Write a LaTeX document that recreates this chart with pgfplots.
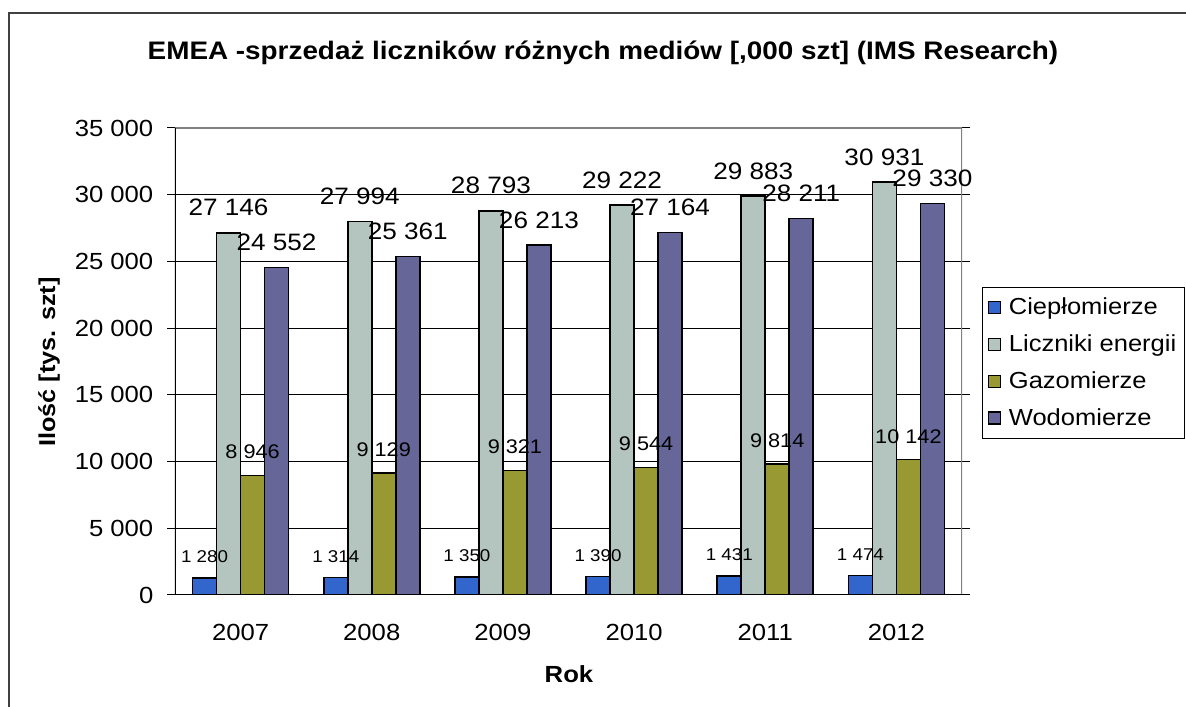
\documentclass[border=0pt]{standalone}
\usepackage{fontspec}
\setmainfont{Liberation Sans}[FakeStretch=1.1]
\usepackage{pgfplots}
\pgfplotsset{compat=1.18}
\definecolor{cBlue}{HTML}{3366CC}
\definecolor{cGray}{HTML}{B4C4BE}
\definecolor{cOlive}{HTML}{999933}
\definecolor{cPurple}{HTML}{666699}
\definecolor{cFrame}{HTML}{404040}
\definecolor{cBox}{HTML}{808080}
\pgfkeys{/pgf/number format/.cd, fixed, precision=0, 1000 sep={\ }, assume math mode=true}
\begin{document}
\begin{tikzpicture}[x=0.75pt,y=0.75pt]
\useasboundingbox (0,0) rectangle (1186,707);
\draw[line width=1.5pt, cFrame] (9,-30) rectangle (1230,694);
\begin{axis}[
  at={(131.25pt,84pt)}, anchor=south west, scale only axis,
  width=590.25pt, height=350.25pt,
  xmin=-0.5, xmax=5.5, ymin=0, ymax=35000,
  ybar=0pt, bar width=18pt,
  axis line style={draw=none},
  tick align=outside,
  major tick length=6pt,
  xtick={0,1,2,3,4,5},
  xticklabels={2007,2008,2009,2010,2011,2012},
  x tick style={draw=none},
  extra x ticks={-0.5,0.5,1.5,2.5,3.5,4.5,5.5},
  extra x tick labels={},
  extra x tick style={grid=none, major tick length=4.5pt, tick style={black, line width=0.75pt}},
  ytick={0,5000,...,35000},
  y tick style={black, line width=0.75pt},
  scaled y ticks=false,
  ymajorgrids, grid style={black, line width=0.75pt},
  tick label style={font=\fontsize{17.5}{20}\selectfont},
  yticklabel style={xshift=-6.75pt, /pgf/number format/.cd, fixed, precision=0, 1000 sep={\ }, assume math mode=true},
  xticklabel style={anchor=base, yshift=-28pt},
  title={EMEA -sprzedaż liczników różnych mediów [,000 szt] (IMS Research)},
  title style={at={(axis description cs:0.5438,1.1306)}, anchor=base, font=\bfseries\fontsize{19.0}{22}\selectfont},
  xlabel={Rok},
  every axis x label/.style={at={(axis description cs:0.5006,-0.1884)}, anchor=base, font=\bfseries\fontsize{17.5}{20}\selectfont},
  ylabel={Ilość [tys. szt]},
  every axis y label/.style={at={(axis description cs:-0.1601,0.4989)}, rotate=90, anchor=center, font=\bfseries\fontsize{17.2}{20}\selectfont},
  nodes near coords={\pgfmathprintnumber[fixed, precision=0, 1000 sep={\ }, assume math mode=true]{\pgfplotspointmeta}},
  point meta=y,
  every node near coord/.append style={anchor=base, black},
  legend image code/.code={\draw[#1, draw=black, line width=0.8pt] (0pt,-4.5pt) rectangle (9pt,4.5pt);},
  legend cell align=left,
  legend style={at={(1.0254,0.6595)}, anchor=north west, draw=black, line width=0.75pt,
    font=\fontsize{17.4}{20}\selectfont, row sep=9.5pt, column sep=4pt, inner xsep=4pt, inner ysep=6pt},
]
\addplot[fill=cBlue, draw=black, line width=1.2pt,
  every node near coord/.append style={font=\fontsize{12.8}{15}\selectfont, yshift=11.25pt}]
  coordinates {(0,1280) (1,1314) (2,1350) (3,1390) (4,1431) (5,1474)};
\addplot[fill=cGray, draw=black, line width=1.2pt,
  every node near coord/.append style={font=\fontsize{17.8}{21}\selectfont, yshift=12.75pt}]
  coordinates {(0,27146) (1,27994) (2,28793) (3,29222) (4,29883) (5,30931)};
\addplot[fill=cOlive, draw=black, line width=1.2pt,
  every node near coord/.append style={font=\fontsize{14.8}{18}\selectfont, yshift=12.5pt}]
  coordinates {(0,8946) (1,9129) (2,9321) (3,9544) (4,9814) (5,10142)};
\addplot[fill=cPurple, draw=black, line width=1.2pt,
  every node near coord/.append style={font=\fontsize{17.8}{21}\selectfont, yshift=12.75pt}]
  coordinates {(0,24552) (1,25361) (2,26213) (3,27164) (4,28211) (5,29330)};
\legend{Ciepłomierze, Liczniki energii, Gazomierze, Wodomierze}
\draw[cBox, line width=1.5pt] (rel axis cs:0,1) -- (rel axis cs:1,1) -- (rel axis cs:1,0);
\draw[black, line width=0.9pt] (rel axis cs:0,1) -- (rel axis cs:0,0) -- (rel axis cs:1,0);
\end{axis}
\end{tikzpicture}
\end{document}
